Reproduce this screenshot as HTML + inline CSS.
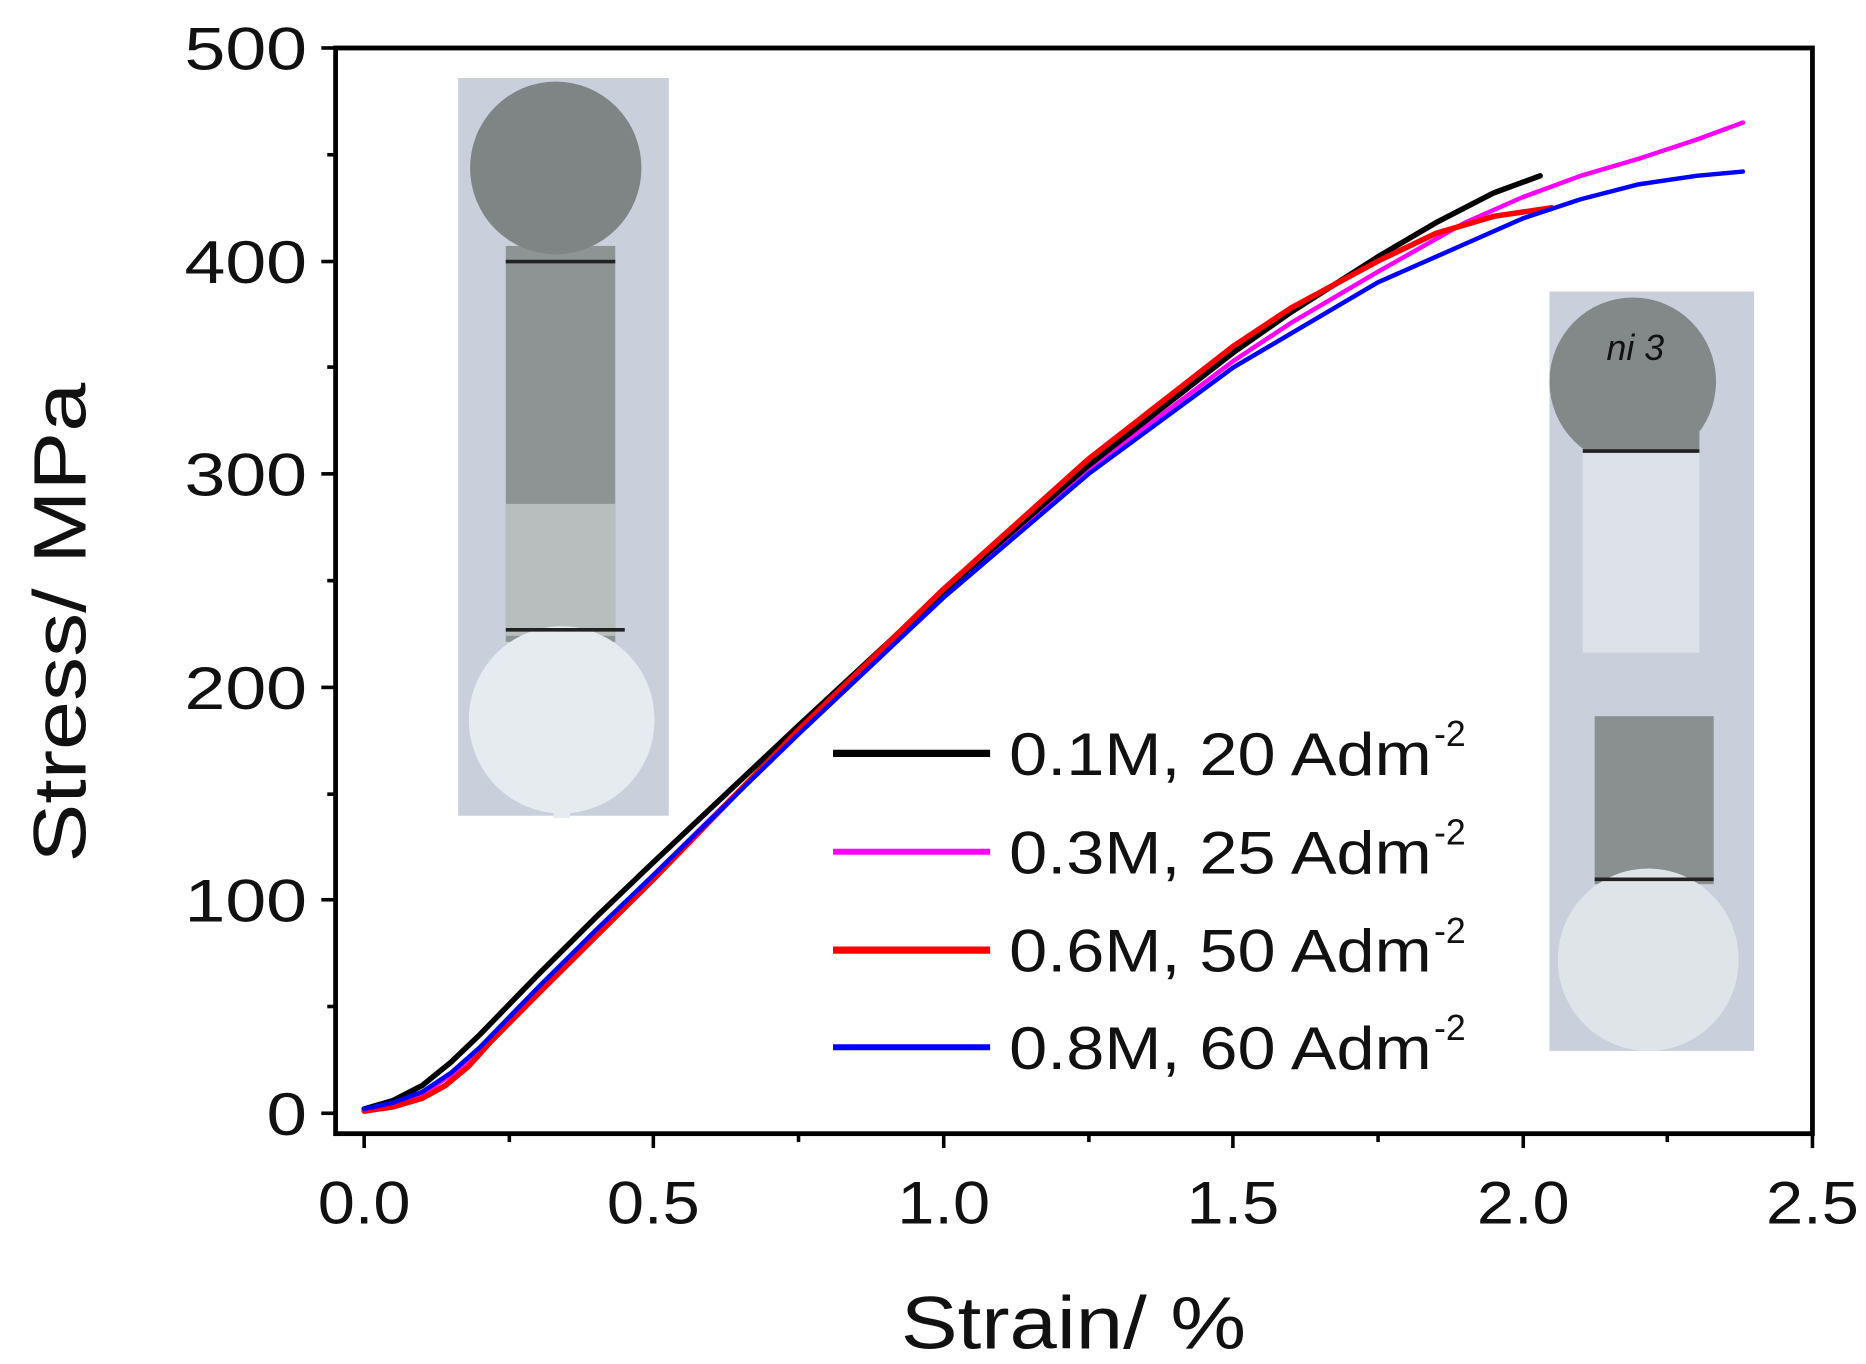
<!DOCTYPE html>
<html><head><meta charset="utf-8"><style>
html,body{margin:0;padding:0;background:#fff;}
svg{display:block;}
text{font-family:"Liberation Sans",Arial,sans-serif;fill:#111;}
</style></head><body>
<svg width="1866" height="1364" viewBox="0 0 1568 1137" preserveAspectRatio="none" xmlns="http://www.w3.org/2000/svg">
<rect width="1568" height="1137" fill="#fff"/>
<!-- left inset photo -->
<rect x="385" y="65" width="177" height="615" fill="#c9d0dc"/>
<rect x="425" y="205" width="92" height="330" fill="#8e9494"/>
<rect x="425" y="420" width="92" height="110" fill="#b8bdbd"/>
<circle cx="467" cy="140" r="72" fill="#7f8484"/>
<circle cx="472" cy="600" r="78" fill="#e6ebef"/>
<rect x="465" y="660" width="14" height="22" fill="#e6ebef"/>
<line x1="425" y1="218" x2="517" y2="218" stroke="#222" stroke-width="3"/>
<line x1="425" y1="525" x2="525" y2="525" stroke="#222" stroke-width="3"/>
<!-- right inset photo -->
<rect x="1302" y="243" width="172" height="633" fill="#c9d0dc"/>
<circle cx="1372" cy="318" r="70" fill="#838888"/>
<rect x="1330" y="360" width="98" height="16" fill="#838888"/>
<rect x="1330" y="376" width="98" height="168" fill="#dde2ea"/>
<rect x="1340" y="597" width="100" height="140" fill="#8a8f8f"/>
<circle cx="1385" cy="800" r="76" fill="#dfe4e8"/>
<line x1="1330" y1="376" x2="1428" y2="376" stroke="#222" stroke-width="3"/>
<line x1="1340" y1="733" x2="1440" y2="733" stroke="#222" stroke-width="3"/>
<text x="1350" y="300" font-size="30" font-style="italic">ni 3</text>
<!-- axes -->
<rect x="282" y="40" width="1241" height="905" fill="none" stroke="#000" stroke-width="4"/>
<g stroke="#000" stroke-width="3">
<line x1="270" y1="928" x2="282" y2="928"/><line x1="270" y1="750" x2="282" y2="750"/><line x1="270" y1="573" x2="282" y2="573"/><line x1="270" y1="395" x2="282" y2="395"/><line x1="270" y1="218" x2="282" y2="218"/><line x1="270" y1="40" x2="282" y2="40"/>
<line x1="275" y1="839" x2="282" y2="839"/><line x1="275" y1="662" x2="282" y2="662"/><line x1="275" y1="484" x2="282" y2="484"/><line x1="275" y1="306" x2="282" y2="306"/><line x1="275" y1="129" x2="282" y2="129"/>
<line x1="306" y1="945" x2="306" y2="957"/><line x1="549" y1="945" x2="549" y2="957"/><line x1="793" y1="945" x2="793" y2="957"/><line x1="1036" y1="945" x2="1036" y2="957"/><line x1="1280" y1="945" x2="1280" y2="957"/><line x1="1523" y1="945" x2="1523" y2="957"/>
<line x1="428" y1="945" x2="428" y2="952"/><line x1="671" y1="945" x2="671" y2="952"/><line x1="915" y1="945" x2="915" y2="952"/><line x1="1158" y1="945" x2="1158" y2="952"/><line x1="1401" y1="945" x2="1401" y2="952"/>
</g>
<g font-size="50" text-anchor="end">
<text x="258" y="946" textLength="34" lengthAdjust="spacingAndGlyphs">0</text>
<text x="258" y="768" textLength="103" lengthAdjust="spacingAndGlyphs">100</text><text x="258" y="591" textLength="103" lengthAdjust="spacingAndGlyphs">200</text><text x="258" y="413" textLength="103" lengthAdjust="spacingAndGlyphs">300</text><text x="258" y="236" textLength="103" lengthAdjust="spacingAndGlyphs">400</text><text x="258" y="58" textLength="103" lengthAdjust="spacingAndGlyphs">500</text>
</g>
<g font-size="50" text-anchor="middle">
<text x="306" y="1020" textLength="78" lengthAdjust="spacingAndGlyphs">0.0</text><text x="549" y="1020" textLength="78" lengthAdjust="spacingAndGlyphs">0.5</text><text x="793" y="1020" textLength="78" lengthAdjust="spacingAndGlyphs">1.0</text><text x="1036" y="1020" textLength="78" lengthAdjust="spacingAndGlyphs">1.5</text><text x="1280" y="1020" textLength="78" lengthAdjust="spacingAndGlyphs">2.0</text><text x="1523" y="1020" textLength="78" lengthAdjust="spacingAndGlyphs">2.5</text>
</g>
<text x="902" y="1124" font-size="62" text-anchor="middle" textLength="290" lengthAdjust="spacingAndGlyphs">Strain/ %</text>
<text transform="translate(72,519) rotate(-90)" font-size="62" text-anchor="middle" textLength="400" lengthAdjust="spacingAndGlyphs">Stress/ MPa</text>
<!-- curves -->
<g transform="translate(306,928) scale(486.8,-1.776)" fill="none" stroke-linejoin="round" stroke-linecap="round">
<polyline vector-effect="non-scaling-stroke" stroke="#ff00ff" stroke-width="4.5" points="0,2 0.05,4 0.1,9 0.15,18 0.2,30 0.3,58 0.4,85 0.5,112 0.75,179 1.0,243 1.25,302 1.5,353 1.6,371 1.75,395 1.9,418 2.0,430 2.1,440 2.2,448 2.3,457 2.38,465"/>
<polyline vector-effect="non-scaling-stroke" stroke="#000" stroke-width="5.5" points="0,2 0.05,6 0.1,13 0.15,24 0.2,37 0.3,65 0.4,92 0.5,118 0.75,182 1.0,245 1.25,304 1.5,357 1.6,376 1.75,402 1.85,418 1.95,432 2.0,437 2.03,440"/>
<polyline vector-effect="non-scaling-stroke" stroke="#ff0000" stroke-width="5.5" points="0,1 0.05,3 0.1,7 0.14,13 0.18,22 0.22,34 0.3,56 0.4,83 0.5,110 0.75,180 1.0,246 1.25,307 1.5,360 1.6,378 1.75,400 1.85,413 1.95,421 2.05,425"/>
<polyline vector-effect="non-scaling-stroke" stroke="#0000ff" stroke-width="4.5" points="0,2 0.05,5 0.1,10 0.15,19 0.2,31 0.3,59 0.4,86 0.5,112 0.75,178 1.0,242 1.25,300 1.5,350 1.6,366 1.75,390 1.9,408 2.0,420 2.1,429 2.2,436 2.3,440 2.38,442"/>
</g>
<!-- legend -->
<g stroke-width="6">
<line x1="700" y1="628" x2="832" y2="628" stroke="#000"/>
<line x1="700" y1="710" x2="832" y2="710" stroke="#ff00ff" stroke-width="5"/>
<line x1="700" y1="792" x2="832" y2="792" stroke="#ff0000"/>
<line x1="700" y1="873" x2="832" y2="873" stroke="#0000ff" stroke-width="5"/>
</g>
<g font-size="50">
<text x="848" y="646" textLength="355" lengthAdjust="spacingAndGlyphs">0.1M, 20 Adm</text><text x="1205" y="622" font-size="30">-2</text>
<text x="848" y="728" textLength="355" lengthAdjust="spacingAndGlyphs">0.3M, 25 Adm</text><text x="1205" y="704" font-size="30">-2</text>
<text x="848" y="810" textLength="355" lengthAdjust="spacingAndGlyphs">0.6M, 50 Adm</text><text x="1205" y="786" font-size="30">-2</text>
<text x="848" y="891" textLength="355" lengthAdjust="spacingAndGlyphs">0.8M, 60 Adm</text><text x="1205" y="867" font-size="30">-2</text>
</g>
</svg>
</body></html>
